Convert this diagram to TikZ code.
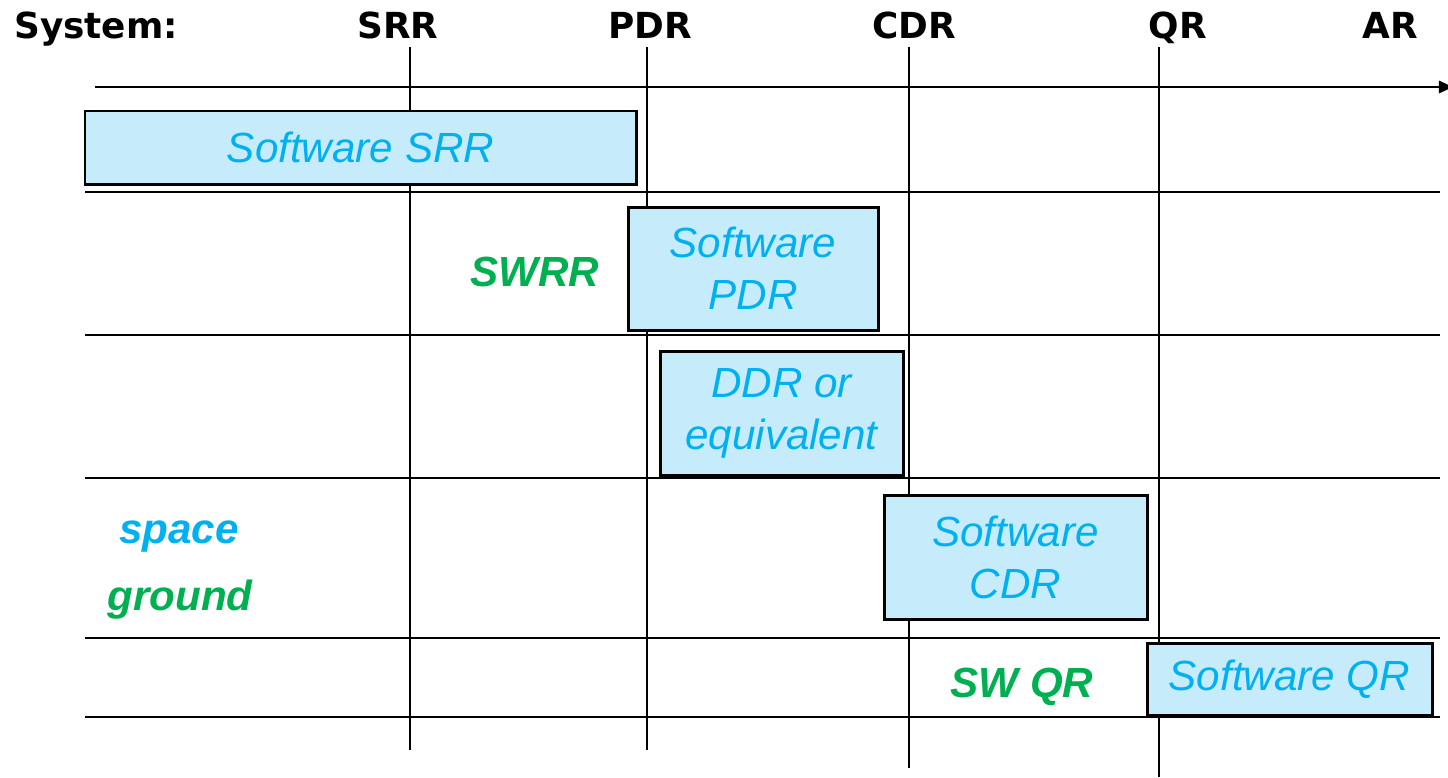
\documentclass[tikz,border=0pt]{standalone}
\usepackage{fontspec}
\usetikzlibrary{arrows.meta}
\setmainfont{Liberation Sans}
\newfontfamily\headfont{DejaVu Sans}
\definecolor{swblue}{HTML}{00B0F0}
\definecolor{swgreen}{HTML}{00B050}
\definecolor{boxfill}{HTML}{C6ECFC}
\begin{document}
\begin{tikzpicture}[
    x=0.2mm,y=-0.2mm,
    review/.style={draw,line width=1.7pt,fill=boxfill,text=swblue,inner sep=0pt,
      align=center,font=\fontsize{24}{29.5}\selectfont\itshape},
    milestone/.style={anchor=base,font=\headfont\fontsize{20.4}{24}\selectfont\bfseries},
    swlabel/.style={anchor=base,font=\fontsize{24}{29}\selectfont\bfseries\itshape},
    gridline/.style={line width=1.3pt},
    >={Triangle[length=8pt,width=7pt]}
]
\useasboundingbox (0,0) rectangle (1448,777);

% milestones of the system
\node[milestone,anchor=base west] (sys) at (8,38) {System:};
\node[milestone] (srr) at (398,38) {SRR};
\node[milestone] (pdr) at (650,38) {PDR};
\node[milestone] (cdr) at (914,38) {CDR};
\node[milestone] (qr) at (1178,38) {QR};
\node[milestone] (ar) at (1390,38) {AR};

% time axis and grid
\coordinate (t0) at (95,87);
\coordinate (t1) at (1453,87);
\draw[gridline,->] (t0) -- (t1);
\foreach \y in {192,335,478,638,717}
  \draw[gridline] (85,\y) -- (1440,\y);
\draw[gridline] (410,47) -- (410,750);
\draw[gridline] (647,47) -- (647,750);
\draw[gridline] (909,47) -- (909,768);
\draw[gridline] (1159,47) -- (1159,777);

% software reviews
\node[review,minimum width=110.2mm,minimum height=14.6mm] (ssrr) at (360.5,147.5) {Software SRR};
\node[review,minimum width=50mm,minimum height=24.6mm] (spdr) at (753,268.5) {Software\\PDR};
\node[review,minimum width=48.6mm,minimum height=24.8mm] (ddr) at (781.5,413) {DDR or\\equivalent};
\node[review,minimum width=52.6mm,minimum height=24.8mm] (scdr) at (1015.5,557) {Software\\CDR};
\node[review,minimum width=57mm,minimum height=14.4mm] (sqr) at (1289.5,679) {Software QR};

\node[swlabel,text=swgreen] (swrr) at (535,286) {SWRR};
\node[swlabel,text=swblue] (space) at (179,543) {space};
\node[swlabel,text=swgreen] (ground) at (180,610) {ground};
\node[swlabel,text=swgreen] (swqr) at (1022,697) {SW QR};
\end{tikzpicture}
\end{document}
